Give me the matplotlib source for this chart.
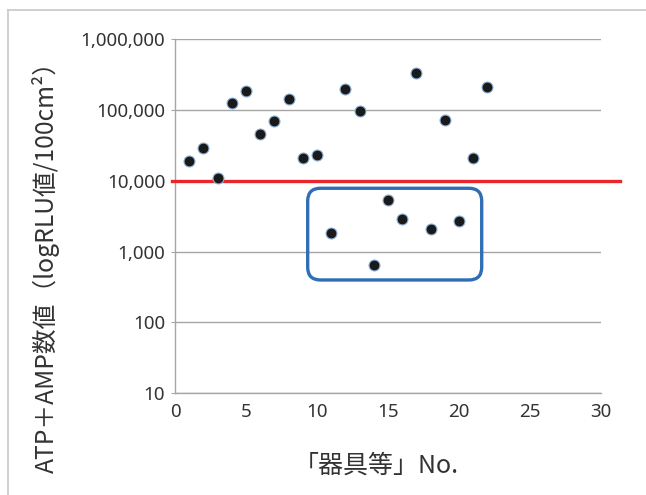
import matplotlib
matplotlib.use("Agg")
import matplotlib.pyplot as plt
from matplotlib.patches import FancyBboxPatch
from matplotlib.lines import Line2D
from matplotlib.ticker import FuncFormatter, FixedLocator

plt.rcParams['font.family'] = ['Noto Sans', 'Noto Sans CJK JP', 'DejaVu Sans']

# Item numbers and measured ATP+AMP values (RLU / 100 cm²)
item_no = list(range(1, 23))
rlu_values = [19300, 28800, 11000, 127000, 187000, 46300, 69000, 141000,
              20800, 23400, 1850, 200000, 97700, 640, 5430, 2880,
              338000, 2110, 71400, 2730, 21300, 215000]
threshold = 10000
y_ticks = [10, 100, 1000, 10000, 100000, 1000000]
x_ticks = [0, 5, 10, 15, 20, 25, 30]

text_color = '#333333'
grid_color = '#a6a6a6'

fig = plt.figure(figsize=(6.46, 4.95), dpi=100)
ax = fig.add_axes([0.2709, 0.2061, 0.6594, 0.7145])

ax.set_yscale('log')
ax.set_ylim(10, 1000000)
ax.set_xlim(0, 30)

ax.yaxis.set_major_locator(FixedLocator(y_ticks))
ax.yaxis.set_minor_locator(FixedLocator([]))
ax.yaxis.set_major_formatter(FuncFormatter(lambda v, p: f"{int(round(v)):,}"))
ax.set_xticks(x_ticks)
ax.set_xticklabels([str(t) for t in x_ticks])

ax.grid(axis='y', color=grid_color, linewidth=1.0)
ax.set_axisbelow(True)
for s in ['top', 'right']:
    ax.spines[s].set_visible(False)
for s in ['left', 'bottom']:
    ax.spines[s].set_color(grid_color)
    ax.spines[s].set_linewidth(1.0)

ax.tick_params(axis='y', length=3, color=grid_color, labelsize=13.5,
               labelcolor=text_color, pad=4)
ax.tick_params(axis='x', length=0, labelsize=13.5, labelcolor=text_color, pad=7)

# Threshold line extending slightly past the plot area
ax.add_line(Line2D([-0.006, 1.045], [threshold, threshold], color='#e8262b',
                   linewidth=2.4, transform=ax.get_yaxis_transform(),
                   clip_on=False, zorder=3))

ax.scatter(item_no, rlu_values, s=62, color='#1a1a1a', edgecolors='#8fb0d8',
           linewidths=0.8, zorder=4)

# Rounded frame around the low-value group
w_px, h_px = 426.0, 353.7
box = FancyBboxPatch((0.3115, 0.3195), 0.4085, 0.2593,
                     boxstyle="round,pad=0,rounding_size=0.03",
                     mutation_aspect=w_px / h_px,
                     transform=ax.transAxes, facecolor='none',
                     edgecolor='#2f6db5', linewidth=2.4, zorder=5,
                     clip_on=False)
ax.add_patch(box)

fig.text(0.071, 0.472, 'ATP＋AMP数値（logRLU値/100cm²）', rotation=90,
         ha='center', va='center', fontsize=17.8, color=text_color,
         family=['Noto Sans CJK JP', 'DejaVu Sans'])
fig.text(0.582, 0.060, '「器具等」No.', ha='center', va='center',
         fontsize=18, color=text_color,
         family=['Noto Sans CJK JP', 'DejaVu Sans'])

# Outer border lines
border = '#c8c8c8'
fig.add_artist(Line2D([8 / 646, 1.0], [1 - 10 / 495, 1 - 10 / 495],
                      color=border, linewidth=1.2, transform=fig.transFigure))
fig.add_artist(Line2D([8 / 646, 8 / 646], [1 - 10 / 495, 0.0],
                      color=border, linewidth=1.2, transform=fig.transFigure))

fig.savefig('out.png', dpi=100)
